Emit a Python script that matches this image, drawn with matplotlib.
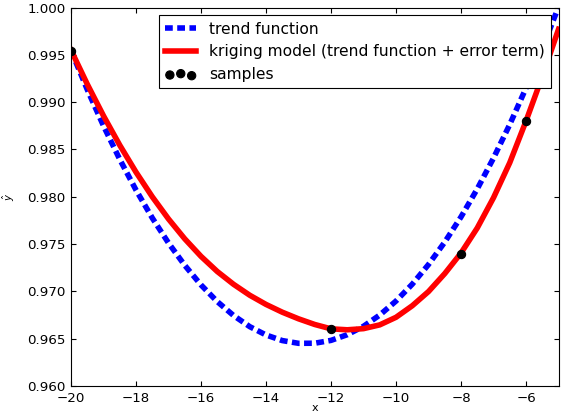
import matplotlib

matplotlib.use("Agg")
import matplotlib.pyplot as plt

# values
x_grid = [-20.0, -19.5, -19.0, -18.5, -18.0, -17.5, -17.0, -16.5, -16.0, -15.5,
          -15.0, -14.5, -14.0, -13.5, -13.0, -12.5, -12.0, -11.5, -11.0, -10.5,
          -10.0, -9.5, -9.0, -8.5, -8.0, -7.5, -7.0, -6.5, -6.0, -5.5, -5.0]

trend = [0.99546, 0.99133, 0.98749, 0.98395, 0.98071, 0.97776, 0.97511, 0.97275,
         0.97068, 0.96892, 0.96745, 0.96627, 0.96539, 0.96480, 0.96451, 0.96452,
         0.96482, 0.96542, 0.96631, 0.96750, 0.96898, 0.97076, 0.97284, 0.97521,
         0.97787, 0.98083, 0.98409, 0.98764, 0.99149, 0.99563, 1.00007]

kriging = [0.99550, 0.99190, 0.98855, 0.98545, 0.98260, 0.98000, 0.97765, 0.97555,
           0.97370, 0.97210, 0.97075, 0.96959, 0.96862, 0.96780, 0.96710, 0.96650,
           0.96604, 0.96594, 0.96606, 0.96646, 0.96726, 0.96848, 0.96998, 0.97188,
           0.97405, 0.97670, 0.97990, 0.98360, 0.98800, 0.99270, 0.99770]

sample_x = [-20, -12, -8, -6]
sample_y = [0.99545, 0.96603, 0.97400, 0.98800]

x_ticks = [-20, -18, -16, -14, -12, -10, -8, -6]
y_ticks = [0.960, 0.965, 0.970, 0.975, 0.980, 0.985, 0.990, 0.995, 1.000]

fig = plt.figure(figsize=(565 / 80, 419 / 80), dpi=80)
ax = fig.add_axes([0.1257, 0.0788, 0.8628, 0.9032])

ax.plot(x_grid, trend, color="blue", lw=5, linestyle=(0, (1.4, 0.8)),
        dash_capstyle="butt", label="trend function")
ax.plot(x_grid, kriging, color="red", lw=5, label="kriging model (trend function + error term)")
ax.scatter(sample_x, sample_y, s=55, c="black", zorder=3, label="samples")

ax.set_xlim(-20, -5)
ax.set_ylim(0.960, 1.000)
ax.set_xticks(x_ticks)
ax.set_yticks(y_ticks)
ax.set_yticklabels([f"{v:.3f}" for v in y_ticks])
ax.tick_params(direction="in", length=4.5, width=1, labelsize=12, pad=5,
               top=True, right=True, colors="black")
for spine in ax.spines.values():
    spine.set_linewidth(1)
    spine.set_color("black")

ax.set_xlabel("x", fontsize=10)
ax.set_ylabel(r"$\hat{y}$", fontsize=9)
ax.xaxis.set_label_coords(0.5, -0.045)
ax.yaxis.set_label_coords(-0.111, 0.5)

leg = ax.legend(loc="upper right", fontsize=14, scatterpoints=3,
                scatteryoffsets=[0.375, 0.5, 0.3125], fancybox=False,
                framealpha=1, edgecolor="black", handlelength=2)
leg.get_frame().set_linewidth(1)

fig.savefig("out.png", dpi=80)
